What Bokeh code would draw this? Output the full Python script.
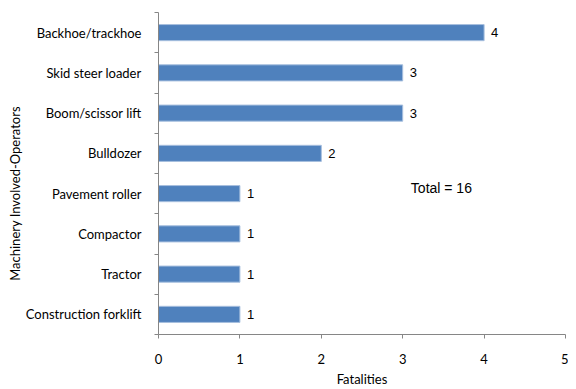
import math
from bokeh.plotting import figure
from bokeh.models import FixedTicker, Range1d, Label, ColumnDataSource
from bokeh.core.properties import value
from bokeh.embed import file_html
from bokeh.resources import INLINE

categories = ["Backhoe/trackhoe", "Skid steer loader", "Boom/scissor lift", "Bulldozer",
              "Pavement roller", "Compactor", "Tractor", "Construction forklift"]
fatalities = [4, 3, 3, 2, 1, 1, 1, 1]
x_ticks = [0, 1, 2, 3, 4, 5]
total_text = "Total = 16"
x_title = "Fatalities"
y_title = "Machinery Involved-Operators"

n = len(categories)
ypos = [n - i - 0.5 for i in range(n)]
src = ColumnDataSource(dict(y=ypos, x=fatalities, lab=[str(v) for v in fatalities], cat=categories))

AX = "#868686"
CAL = "Lato"

p = figure(width=568, height=389, output_backend="svg", toolbar_location=None,
           x_range=Range1d(0, 5), y_range=Range1d(0, n),
           min_border_left=158, min_border_right=3, min_border_top=12, min_border_bottom=55)
p.outline_line_color = None
p.xgrid.visible = False
p.ygrid.visible = False

p.hbar(y='y', right='x', left=0, height=0.4, source=src,
       fill_color="#4F81BD", line_color="#A7BFDE", line_width=1)
p.text(x='x', y='y', text='lab', source=src, x_offset=7, text_baseline="middle",
       text_font=value("Liberation Sans"), text_font_size="13px", text_color="#000000")

# x axis
xa = p.xaxis[0]
xa.ticker = FixedTicker(ticks=x_ticks)
xa.axis_line_color = AX
xa.major_tick_line_color = AX
xa.major_tick_out = 4
xa.major_tick_in = 0
xa.minor_tick_line_color = None
xa.major_label_text_font = CAL
xa.major_label_text_font_size = "13px"
xa.major_label_text_color = "#000000"
xa.major_label_standoff = 15
xa.axis_label = x_title
xa.axis_label_text_font = CAL
xa.axis_label_text_font_size = "13px"
xa.axis_label_text_font_style = "normal"
xa.axis_label_text_color = "#000000"
xa.axis_label_standoff = 4

# y axis
ya = p.yaxis[0]
ya.ticker = FixedTicker(ticks=ypos, minor_ticks=list(range(n + 1)))
ya.major_label_overrides = {y: c for y, c in zip(ypos, categories)}
ya.axis_line_color = AX
ya.major_tick_line_color = None
ya.major_tick_out = 0
ya.major_tick_in = 0
ya.minor_tick_line_color = AX
ya.minor_tick_out = 4
ya.minor_tick_in = 0
ya.major_label_text_font = CAL
ya.major_label_text_font_size = "13px"
ya.major_label_text_color = "#000000"
ya.major_label_standoff = 13
ya.axis_label = y_title + "\u00a0" * 12
ya.axis_label_text_font = CAL
ya.axis_label_text_font_size = "13px"
ya.axis_label_text_font_style = "normal"
ya.axis_label_text_color = "#000000"
ya.axis_label_standoff = 0

p.add_layout(Label(x=3.1, y=3.64, text=total_text, text_baseline="middle",
                   text_font="Liberation Sans", text_font_size="14px", text_color="#000000"))

open("out.html", "w").write(file_html(p, INLINE))
